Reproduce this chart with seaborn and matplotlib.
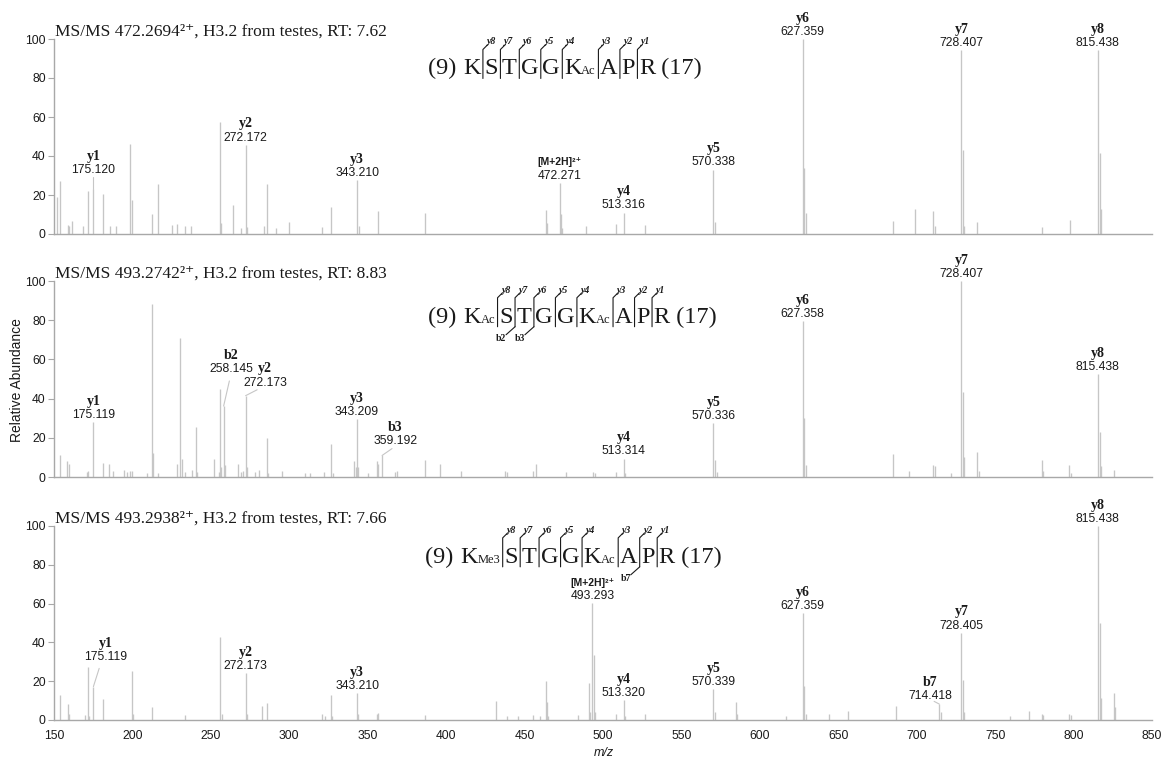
import matplotlib
matplotlib.use("Agg")
import matplotlib.pyplot as plt
from matplotlib.transforms import IdentityTransform
from matplotlib.lines import Line2D
import seaborn as sns

sns.set_theme(style="white")
SANS = ["Liberation Sans", "DejaVu Sans"]
SERIF = ["Liberation Serif", "DejaVu Serif"]
plt.rcParams["font.family"] = SANS

# ---------------- spectrum A: precursor 472.2694 (2+) ----------------
mz_a = [151.7, 153.8, 158.7, 159.5, 161.7, 168.7, 171.5, 175.120, 181.3, 185.5,
        189.4, 198.5, 199.8, 212.7, 216.6, 225.5, 228.3, 233.2, 237.4, 255.7,
        256.6, 263.8, 269.1, 272.172, 273.2, 283.8, 285.5, 291.5, 299.5, 320.8,
        326.6, 343.210, 344.2, 356.3, 386.7, 463.8, 464.2, 472.271, 473.2, 474.1,
        489.3, 508.4, 513.316, 526.5, 570.338, 571.3, 627.359, 628.4, 629.3, 684.7,
        698.8, 710.7, 711.4, 728.407, 729.3, 730.2, 738.5, 779.6, 797.5, 815.438,
        816.8, 817.6]
int_a = [18.8, 27.0, 4.4, 4.0, 6.8, 4.0, 22.0, 23.0, 20.5, 4.0,
         4.0, 46.0, 17.4, 10.3, 25.8, 4.5, 5.0, 4.0, 4.0, 57.3,
         5.5, 14.7, 3.0, 45.8, 3.5, 4.0, 25.6, 3.0, 6.0, 3.5,
         13.8, 27.7, 4.0, 12.0, 11.0, 12.3, 5.5, 26.3, 10.5, 3.0,
         4.0, 5.0, 11.0, 4.5, 33.0, 6.0, 100.0, 33.7, 11.0, 6.8,
         13.0, 12.0, 4.0, 94.4, 43.0, 4.0, 6.0, 3.5, 7.0, 94.4,
         41.4, 12.6]
ion_a = ["y1", "y2", "y3", "[M+2H]²⁺", "y4", "y5", "y6", "y7", "y8"]
ion_mz_a = [175.120, 272.172, 343.210, 472.271, 513.316, 570.338, 627.359, 728.407, 815.438]

# ---------------- spectrum B: precursor 493.2742 (2+) ----------------
mz_b = [153.8, 158.5, 159.4, 170.8, 171.8, 175.119, 181.5, 185.3, 187.9, 194.7,
        196.8, 198.5, 200.0, 209.5, 212.3, 213.4, 216.6, 228.3, 230.4, 231.5,
        233.3, 237.9, 240.4, 241.2, 251.7, 255.0, 255.9, 256.6, 258.145, 259.2,
        267.6, 269.5, 270.8, 272.173, 273.1, 278.3, 281.0, 285.7, 286.4, 295.3,
        309.7, 313.0, 321.9, 326.8, 327.6, 341.5, 342.3, 343.209, 344.0, 350.0,
        355.9, 356.5, 359.192, 367.2, 368.6, 386.8, 396.3, 409.5, 437.8, 439.1,
        455.5, 457.6, 476.3, 493.8, 494.6, 508.6, 513.314, 514.0, 570.336, 571.2,
        572.5, 627.358, 628.4, 629.3, 684.7, 695.0, 710.7, 711.5, 721.8, 728.407,
        729.3, 730.3, 738.6, 739.5, 779.6, 780.7, 797.3, 798.4, 815.438, 816.8,
        817.6, 825.6]
int_b = [11.2, 8.3, 6.6, 2.7, 3.0, 27.9, 7.0, 6.5, 3.0, 3.5,
         2.7, 3.0, 3.0, 2.0, 88.5, 12.0, 2.0, 6.5, 70.7, 9.0,
         2.7, 3.5, 25.5, 2.7, 9.0, 2.7, 44.7, 5.0, 36.2, 6.3,
         6.5, 2.7, 3.0, 41.5, 5.0, 2.5, 3.5, 19.7, 2.0, 3.0,
         2.0, 2.0, 2.7, 16.8, 2.0, 8.0, 5.2, 29.6, 5.2, 2.0,
         8.4, 6.6, 11.0, 2.6, 2.9, 8.8, 6.5, 3.0, 3.2, 2.5,
         3.0, 6.5, 2.5, 2.5, 2.2, 2.5, 9.4, 2.0, 27.4, 8.8,
         2.5, 79.6, 30.0, 6.0, 11.6, 2.9, 5.9, 5.4, 2.0, 100.0,
         43.4, 10.2, 12.9, 3.0, 8.8, 2.9, 6.1, 2.2, 52.4, 22.8,
         5.4, 3.4]
ion_b = ["y1", "b2", "y2", "y3", "b3", "y4", "y5", "y6", "y7", "y8"]
ion_mz_b = [175.119, 258.145, 272.173, 343.209, 359.192, 513.314, 570.336, 627.358, 728.407, 815.438]

# ---------------- spectrum C: precursor 493.2938 (2+) ----------------
mz_c = [153.8, 158.9, 159.6, 169.6, 171.5, 172.6, 175.119, 181.5, 200.0, 200.6,
        212.5, 233.4, 255.7, 257.0, 272.173, 273.0, 282.3, 285.7, 320.6, 322.8,
        326.6, 327.4, 343.210, 344.0, 355.9, 356.5, 386.7, 431.9, 438.9, 445.9,
        455.5, 460.0, 463.8, 464.4, 465.0, 484.0, 490.8, 491.6, 493.293, 494.1,
        494.8, 508.6, 513.320, 514.0, 526.5, 570.339, 571.2, 584.8, 585.6, 616.7,
        627.359, 628.4, 629.2, 644.0, 655.9, 686.9, 714.418, 715.2, 728.405, 729.3,
        730.2, 759.3, 771.6, 779.6, 780.5, 797.3, 798.2, 815.438, 816.8, 817.6,
        825.6, 826.5]
int_c = [12.9, 8.2, 3.0, 2.6, 27.5, 2.2, 17.2, 10.8, 25.4, 3.0,
         6.7, 2.6, 42.9, 3.0, 24.0, 3.0, 7.4, 8.9, 3.0, 2.2,
         12.9, 2.2, 13.7, 2.9, 3.0, 3.6, 2.6, 9.8, 2.0, 2.0,
         2.6, 2.0, 20.1, 9.5, 2.0, 2.6, 19.2, 4.0, 60.1, 33.5,
         4.0, 3.2, 10.3, 2.0, 3.2, 15.8, 4.0, 9.5, 3.2, 2.0,
         55.0, 17.7, 3.2, 3.2, 4.5, 7.4, 8.2, 4.0, 45.0, 20.6,
         4.0, 2.0, 4.5, 3.2, 2.6, 3.2, 2.6, 100.0, 49.8, 11.2,
         13.7, 6.9]
ion_c = ["y1", "y2", "y3", "[M+2H]²⁺", "y4", "y5", "y6", "b7", "y7", "y8"]
ion_mz_c = [175.119, 272.173, 343.210, 493.293, 513.320, 570.339, 627.359, 714.418, 728.405, 815.438]

titles = ["MS/MS 472.2694²⁺, H3.2 from testes, RT: 7.62",
          "MS/MS 493.2742²⁺, H3.2 from testes, RT: 8.83",
          "MS/MS 493.2938²⁺, H3.2 from testes, RT: 7.66"]

# peptide H3 9-17 with modifications and observed b-ion cleavages
residues = ["K", "S", "T", "G", "G", "K", "A", "P", "R"]
mods = [{5: "Ac"}, {0: "Ac", 5: "Ac"}, {0: "Me3", 5: "Ac"}]
b_cuts = [{}, {1: "b2", 2: "b3"}, {6: "b7"}]

x_ticks = list(range(150, 851, 50))
y_ticks = [0, 20, 40, 60, 80, 100]

spectra = [(mz_a, int_a, ion_a, ion_mz_a),
           (mz_b, int_b, ion_b, ion_mz_b),
           (mz_c, int_c, ion_c, ion_mz_c)]

# label placement: (panel, ion) -> (leader end, label anchor) in data units
label_moves = {
    (0, "y1"): ((175.12, 29.0), (175.12, 29.0)),
    (1, "b2"): ((261.8, 49.0), (263.0, 51.5)),
    (1, "y2"): ((279.5, 44.5), (284.5, 44.5)),
    (1, "b3"): ((365.5, 14.5), (367.5, 14.7)),
    (2, "y1"): ((178.8, 26.6), (183.0, 28.6)),
    (2, "b7"): ((711.1, 9.6), (708.6, 8.7)),
}
seq_start = [(388.7, 81.8), (388.7, 78.7), (386.8, 81.0)]

# ---------------- layout ----------------
W, H = 1163, 761
fig = plt.figure(figsize=(W / 100, H / 100), dpi=100)
renderer = fig.canvas.get_renderer()
ident = IdentityTransform()

PEAK = "#c6c6c6"
AXC = "#a8a8a8"
TXT = "#1a1a1a"
SEQ_PT = 17.5
left_px, right_px = 54, 1152
tops = [39, 281, 526]
bottoms = [234, 477, 720]


def draw_sequence(ax, start, mod, cuts):
    x, y = ax.transData.transform(start)
    n = len(residues)

    def put(s, size, xpos):
        t = fig.text(xpos, y, s, transform=ident, fontsize=size, family=SERIF,
                     ha="left", va="baseline", color=TXT)
        return t.get_window_extent(renderer).x1

    x = put("(9) ", SEQ_PT, x)
    for i, res in enumerate(residues):
        x = put(res, SEQ_PT, x)
        if i in mod:
            x = put(mod[i], 9, x)
        if i < n - 1:
            xs = x + 2.5
            fig.add_artist(Line2D([xs, xs, xs + 5], [y - 4, y + 25, y + 30],
                                  transform=ident, color=TXT, lw=0.8))
            fig.text(xs + 4, y + 28, f"y{n - 1 - i}", transform=ident, fontsize=7,
                     family=SERIF, fontweight="bold", fontstyle="italic",
                     ha="left", va="bottom", color=TXT)
            if i in cuts:
                fig.add_artist(Line2D([xs, xs - 9], [y - 4, y - 12],
                                      transform=ident, color=TXT, lw=0.8))
                fig.text(xs - 8.5, y - 11, cuts[i], transform=ident, fontsize=7,
                         family=SERIF, fontweight="bold", ha="right", va="top",
                         color=TXT)
            x = xs + 1.5
    put(" (17)", SEQ_PT, x)


for p, (mz, inten, names, ion_mz) in enumerate(spectra):
    top, bot = tops[p], bottoms[p]
    ax = fig.add_axes([left_px / W, 1 - bot / H, (right_px - left_px) / W, (bot - top) / H])
    ax.vlines(mz, 0, inten, color=PEAK, lw=0.95, clip_on=False)
    ax.set_xlim(150, 850)
    ax.set_ylim(0, 100)
    sns.despine(ax=ax)
    for s in ("left", "bottom"):
        ax.spines[s].set_color(AXC)
        ax.spines[s].set_linewidth(1.0)
    ax.set_yticks(y_ticks)
    ax.tick_params(axis="y", left=True, length=4.5, width=0.8, color=AXC, pad=1.5,
                   labelsize=8.7, labelcolor=TXT)
    if p == 2:
        ax.set_xticks(x_ticks)
        ax.tick_params(axis="x", bottom=True, length=0, pad=7, labelsize=8.7, labelcolor=TXT)
    else:
        ax.set_xticks([])
    ax.grid(False)

    ax.annotate(titles[p], xy=(0, 1), xycoords="axes fraction", xytext=(1, 2.5),
                textcoords="offset points", ha="left", va="baseline", fontsize=12.5,
                family=SERIF, color=TXT, annotation_clip=False)

    for name, m in zip(names, ion_mz):
        h = inten[mz.index(m)]
        lx, ly = m, h
        if (p, name) in label_moves:
            lead, (lx, ly) = label_moves[(p, name)]
            ax.plot([m, lead[0]], [h, lead[1]], color=PEAK, lw=0.8, clip_on=False)
        ax.annotate(f"{m:.3f}", xy=(lx, ly), xytext=(0, 3), textcoords="offset points",
                    ha="center", va="baseline", fontsize=8.7, family=SANS,
                    color=TXT, annotation_clip=False)
        if name.startswith("["):
            ax.annotate(name, xy=(lx, ly), xytext=(0, 12.5), textcoords="offset points",
                        ha="center", va="baseline", fontsize=7.5, family=SANS,
                        fontweight="bold", color=TXT, annotation_clip=False)
        else:
            ax.annotate(name, xy=(lx, ly), xytext=(0, 12.5), textcoords="offset points",
                        ha="center", va="baseline", fontsize=10, family=SERIF,
                        fontweight="bold", color=TXT, annotation_clip=False)

    draw_sequence(ax, seq_start[p], mods[p], b_cuts[p])

fig.text(17 / W, 1 - 380 / H, "Relative Abundance", rotation=90, ha="center",
         va="center", fontsize=10, family=SANS, color=TXT)
fig.text(604 / W, 1 - 753 / H, "m/z", ha="center", va="center", fontsize=9,
         family=SANS, fontstyle="italic", color=TXT)

fig.savefig("out.png", dpi=100)
